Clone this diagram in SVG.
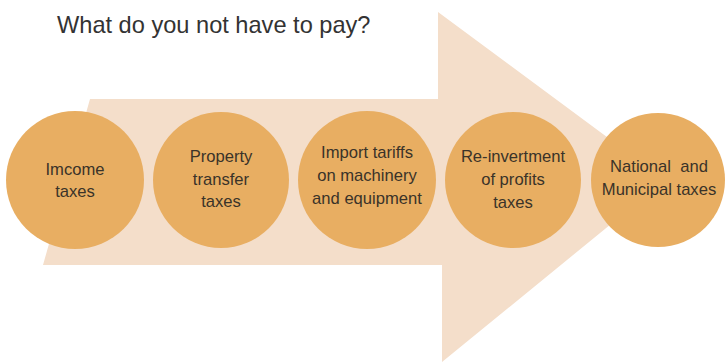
<svg xmlns="http://www.w3.org/2000/svg" width="725" height="362" viewBox="0 0 725 362">
<style>
.title{font-family:"Liberation Sans",Arial,sans-serif;font-size:23.6px;fill:#333333}
.node circle{fill:#E8AE62}
.node text{font-family:"Liberation Sans",Arial,sans-serif;font-size:16.6px;fill:#3a3329;text-anchor:middle}
</style>
<rect width="725" height="362" fill="#ffffff"/>
<text class="title" x="57" y="33">What do you not have to pay?</text>
<g id="arrow">
<polygon points="90,99 438,99 438,12 665,180 442,362 442,265 43,265" fill="#F4DECA"/>
</g>
<g id="connectors"></g>
<g id="node1" class="node">
<circle cx="75" cy="180" r="69"/>
<text x="75" y="175">Imcome</text>
<text x="75" y="197">taxes</text>
</g>
<g id="node2" class="node">
<circle cx="221" cy="180" r="68"/>
<text x="221" y="162">Property</text>
<text x="221" y="185">transfer</text>
<text x="221" y="207">taxes</text>
</g>
<g id="node3" class="node">
<circle cx="367" cy="180" r="69"/>
<text x="367" y="158">Import tariffs</text>
<text x="367" y="181">on machinery</text>
<text x="367" y="204">and equipment</text>
</g>
<g id="node4" class="node">
<circle cx="513" cy="180" r="68"/>
<text x="513" y="162">Re-invertment</text>
<text x="513" y="185">of profits</text>
<text x="513" y="208">taxes</text>
</g>
<g id="node5" class="node">
<circle cx="658" cy="180" r="67"/>
<text x="659" y="172" xml:space="preserve">National  and</text>
<text x="659" y="195">Municipal taxes</text>
</g>
</svg>
